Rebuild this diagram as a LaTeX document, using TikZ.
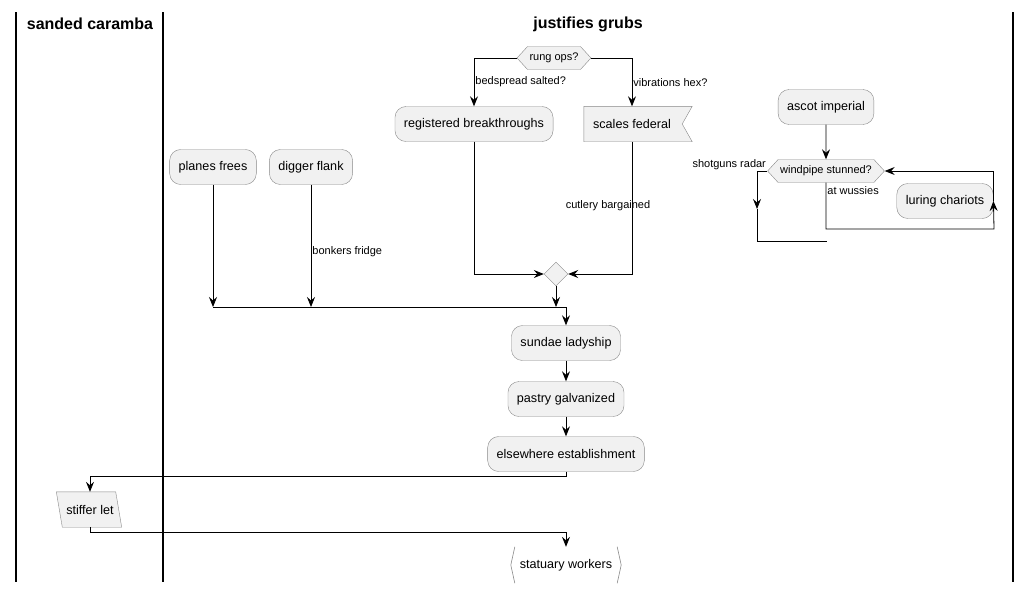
\documentclass[tikz,border=0pt]{standalone}
\usepackage{fontspec}
\setmainfont{Liberation Sans}
\usepackage{tikz}
\usetikzlibrary{arrows.meta,positioning,calc,shapes.geometric,shapes.symbols}
\definecolor{boxbg}{HTML}{F1F1F1}
\definecolor{edge}{HTML}{888888}

\begin{document}
\begin{tikzpicture}[x=1pt, y=-1pt,
  act/.style={
    draw=edge, fill=boxbg, rounded corners=11pt,
    minimum height=35pt, inner xsep=9pt, font=\fontsize{12.6}{14}\selectfont
  },
  hexa/.style={
    draw=edge, fill=boxbg, shape=signal, signal to=west and east,
    signal pointer angle=95, minimum height=23pt, inner xsep=2pt,
    font=\fontsize{11}{13}\selectfont
  },
  lbl/.style={font=\fontsize{11}{13}\selectfont, inner sep=1pt},
  txt/.style={font=\fontsize{12.6}{14}\selectfont},
  lanetitle/.style={font=\fontsize{16}{19}\selectfont\bfseries},
  lane/.style={line width=1.4pt},
  flow/.style={-{Stealth[length=10pt,width=8pt,inset=3.5pt]}, line width=0.8pt},
  conn/.style={line width=0.8pt}
]
  \useasboundingbox (0,0) rectangle (1032,592);

  % swimlanes
  \draw[lane] (16,12) -- (16,582);
  \draw[lane] (163,12) -- (163,582);
  \draw[lane] (1013,12) -- (1013,582);
  \node[lanetitle] (lanea) at (90,24) {sanded caramba};
  \node[lanetitle] (laneb) at (588,24) {justifies grubs};

  % nodes
  \node[hexa] (rung) at (554,58) {rung ops?};
  \node[act] (regbr) at (474,124) {registered breakthroughs};
  \node[minimum width=108pt, minimum height=35pt] (scales) at (638,124) {};
  \filldraw[draw=edge, fill=boxbg] (scales.north west) -- (scales.north east)
    -- ([xshift=-10pt]scales.east) -- (scales.south east) -- (scales.south west) -- cycle;
  \node[txt] at (632,124) {scales federal};
  \node[act] (planes) at (213,167) {planes frees};
  \node[act] (digger) at (311,167) {digger flank};
  \node[draw=edge, fill=boxbg, diamond, inner sep=0pt,
    minimum width=24pt, minimum height=24pt] (merge) at (556,274) {};
  \coordinate (barl) at (213,307);
  \coordinate (barr) at (566,307);
  \node[act] (sundae) at (566,343) {sundae ladyship};
  \node[act] (pastry) at (566,399) {pastry galvanized};
  \node[act] (elsew) at (566,454) {elsewhere establishment};
  \node[minimum width=59pt, minimum height=35pt] (stiffer) at (89,509.5) {};
  \filldraw[draw=edge, fill=boxbg] ([xshift=-3pt]stiffer.north west) -- ([xshift=-3pt]stiffer.north east)
    -- ([xshift=3pt]stiffer.south east) -- ([xshift=3pt]stiffer.south west) -- cycle;
  \node[txt] at (90,509.5) {stiffer let};
  \node[txt, minimum width=110pt, minimum height=36pt] (statuary) at (566,565) {statuary workers};
  \draw[edge, line width=0.6pt] ([xshift=4pt]statuary.north west) -- (statuary.west)
    -- ([xshift=4pt]statuary.south west);
  \draw[edge, line width=0.6pt] ([xshift=-4pt]statuary.north east) -- (statuary.east)
    -- ([xshift=-4pt]statuary.south east);
  \node[act] (ascot) at (826,107) {ascot imperial};
  \node[hexa] (wind) at (826,171) {windpipe stunned?};
  \node[act] (luring) at (945,201) {luring chariots};
  \coordinate (exl) at (757,171);
  \coordinate (exarr) at (757,209);
  \coordinate (exb) at (757,241);
  \coordinate (exe) at (827,241);
  \coordinate (loopbr) at (994,229);

  % connectors
  \draw[flow] (rung.west) -| node[pos=0.75, right, lbl] {bedspread salted?} (regbr.north);
  \draw[flow] (rung.east) -| node[pos=0.75, right, lbl] {vibrations hex?} ([xshift=-6pt]scales.north);
  \draw[flow] (regbr.south) |- (merge.west);
  \draw[flow] ([xshift=-6pt]scales.south) |- node[pos=0.24, xshift=-24pt, lbl] {cutlery bargained} (merge.east);
  \draw[flow] (merge.south) -- (merge.south |- barl);
  \draw[conn] (barl) -- (barr);
  \draw[flow] (planes.south) -- (barl);
  \draw[flow] (digger.south) -- node[pos=0.55, right, lbl] {bonkers fridge} (digger.south |- barl);
  \draw[flow] (barr) -- (sundae.north);
  \draw[flow] (sundae) -- (pastry);
  \draw[flow] (pastry) -- (elsew);
  \draw[flow] (elsew.south) -- ++(0,5) -| ([xshift=1pt]stiffer.north);
  \draw[flow] ([xshift=1pt]stiffer.south) -- ++(0,5) -| (statuary.north);

  \draw[flow] (ascot) -- (wind);
  \draw[flow] (wind.west) node[above left, lbl] {shotguns radar} -- (exl) -- (exarr);
  \draw[conn] (exarr) -- (exb) -- (exe);
  \draw[flow] (wind.south) node[below right, lbl, yshift=-2pt] {at wussies} |- (loopbr) -- (luring.east);
  \draw[flow] (luring.east) |- (wind.east);
\end{tikzpicture}
\end{document}
